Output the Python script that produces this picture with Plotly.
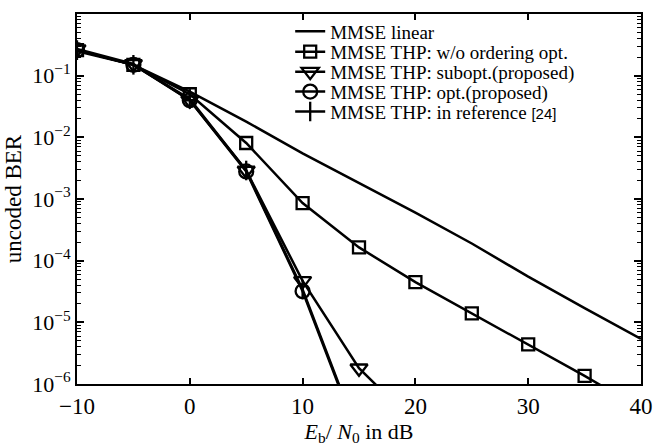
import plotly.graph_objects as go

snr_db = [-10, -5, 0, 5, 10, 15, 20, 25, 30, 35, 40]
ber_linear = [0.25, 0.15, 0.055, 0.018, 0.0055, 0.0018, 6e-4, 1.9e-4, 5.5e-5, 1.7e-5, 5.4e-6]
ber_thp_noorder = [0.26, 0.15, 0.05, 0.0081, 8.6e-4, 1.64e-4, 4.5e-5, 1.4e-5, 4.4e-6, 1.35e-6, 4e-7]
snr_sub = [-10, -5, 0, 5, 10, 15, 20]
ber_thp_subopt = [0.27, 0.155, 0.04, 0.0029, 4.7e-5, 1.8e-6, 2.3e-7]
snr_opt = [-10, -5, 0, 5, 10, 15]
ber_thp_opt = [0.26, 0.15, 0.04, 0.0028, 3.2e-5, 1.3e-7]
ber_thp_ref24 = [0.26, 0.15, 0.042, 0.0029, 3.4e-5, 1.4e-7]

names = ["MMSE linear", "MMSE THP: w/o ordering opt.", "MMSE THP: subopt.(proposed)",
         "MMSE THP: opt.(proposed)",
         "MMSE THP: in reference <span style='font-family:Liberation Sans;font-size:15px'>[24]</span>"]

font = "Liberation Serif, Times New Roman, serif"
lw = 2.5
fig = go.Figure()

series = [
    (snr_db, ber_linear, "lines", None, 0),
    (snr_db, ber_thp_noorder, "lines+markers", dict(symbol="square-open", size=12), 1),
    (snr_sub, ber_thp_subopt, "lines+markers", dict(symbol="triangle-down-open", size=15), 2),
    (snr_opt, ber_thp_opt, "lines+markers", dict(symbol="circle-open", size=14), 3),
    (snr_opt, ber_thp_ref24, "lines+markers", dict(symbol="line-ns-open", size=14), 4),
]
legend_keys = ["legend", "legend2", "legend3", "legend4", "legend5"]
for xs, ys, mode, m, i in series:
    kw = {}
    if m is not None:
        kw["marker"] = dict(color="black", line=dict(width=2.3, color="black"), **m)
    fig.add_trace(go.Scatter(x=xs, y=ys, mode=mode, name=names[i],
                             line=dict(color="black", width=lw),
                             legend=legend_keys[i], **kw))

major = [10.0 ** k for k in range(-6, 1)]
major_txt = ["10<sup>%d</sup>" % k if k >= 0 else "10<sup>\u2212%d</sup>" % (-k) for k in range(-6, 1)]
minor = [m * 10.0 ** k for k in range(-6, 0) for m in range(2, 10)]

# legend entry centres (pixels from top) -> paper coordinates
plot_top, plot_bot = 14, 395
centres = [32, 53, 73.5, 94, 114.5]
leg_layout = {}
for key, c in zip(legend_keys, centres):
    leg_layout[key] = dict(x=0.378, y=(plot_bot - c) / (plot_bot - plot_top),
                           xanchor="left", yanchor="middle",
                           bgcolor="rgba(0,0,0,0)", borderwidth=0,
                           font=dict(size=19, family=font, color="black"))

fig.update_layout(
    width=665, height=448,
    margin=dict(l=73, r=14, t=14, b=53),
    paper_bgcolor="white", plot_bgcolor="white",
    font=dict(family=font, size=19, color="black"),
    showlegend=True,
    **leg_layout,
)
fig.update_xaxes(
    range=[-10, 40], tickvals=[-10, 0, 10, 20, 30, 40],
    ticktext=["\u221210", "0", "10", "20", "30", "40"],
    ticks="inside", ticklen=6, tickwidth=1.5, tickcolor="black",
    showline=True, linecolor="black", linewidth=2, mirror="allticks",
    showgrid=False, zeroline=False,
    tickfont=dict(size=23),
    title=dict(text="<i>E</i><sub>b</sub>/ <i>N</i><sub>0</sub> in dB", font=dict(size=22), standoff=2),
)
fig.update_yaxes(
    type="log", range=[-6, 0],
    tickvals=major, ticktext=major_txt,
    ticks="inside", ticklen=7, tickwidth=1.5, tickcolor="black",
    minor=dict(tickvals=minor, ticks="inside", ticklen=4, tickwidth=1, tickcolor="black", showgrid=False),
    showline=True, linecolor="black", linewidth=2, mirror="allticks",
    showgrid=False, zeroline=False,
    tickfont=dict(size=22),
    title=dict(text="uncoded BER", font=dict(size=23), standoff=4),
)
fig.write_html("out.html")
